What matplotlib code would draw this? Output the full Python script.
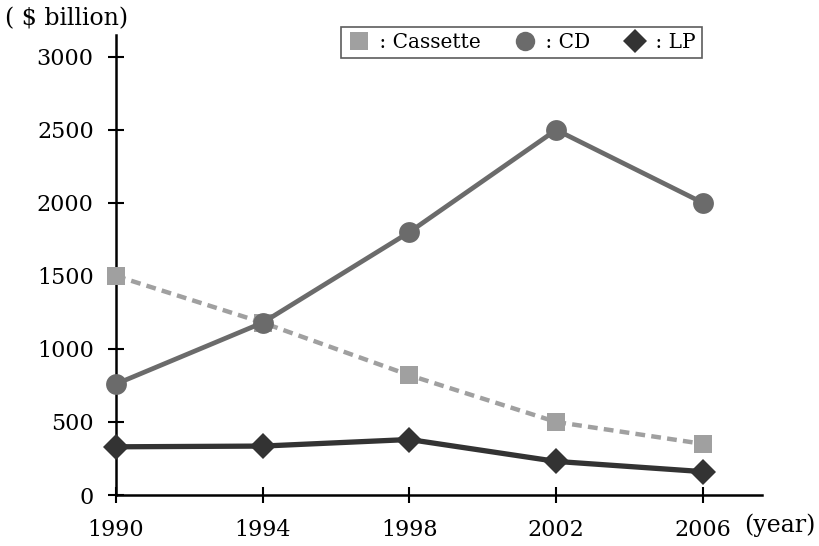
import numpy as np
import matplotlib
matplotlib.use("Agg")
import matplotlib.pyplot as plt

years = [1990, 1994, 1998, 2002, 2006]
cassette = [1500, 1180, 820, 500, 350]
cd = [760, 1180, 1800, 2500, 2000]
lp = [330, 335, 380, 230, 160]
yticks = [0, 500, 1000, 1500, 2000, 2500, 3000]

plt.rcParams['font.family'] = ['DejaVu Serif']

fig = plt.figure(figsize=(8.19, 5.46), dpi=100)
ax = fig.add_axes([0.1416, 0.0934, 0.7884, 0.8426])

# cassette: light gray dashed, squares
ax.plot(years, cassette, color='#a0a0a0', lw=3.2, linestyle=(0, (2.2, 1.4)),
        marker='s', markersize=13, markeredgewidth=0, zorder=3, clip_on=False)
# CD: medium gray, circles
ax.plot(years, cd, color='#6b6b6b', lw=3.4, marker='o', markersize=15,
        markeredgewidth=0, zorder=4, clip_on=False)
# LP: dark, diamonds
ax.plot(years, lp, color='#333333', lw=3.8, marker='D', markersize=13,
        markeredgewidth=0, zorder=5, clip_on=False)

ax.set_xlim(1990, 2007.6)
ax.set_ylim(0, 3150)
ax.set_xticks(years)
ax.set_yticks(yticks)
ax.spines['top'].set_visible(False)
ax.spines['right'].set_visible(False)
ax.spines['left'].set_linewidth(1.8)
ax.spines['bottom'].set_linewidth(1.8)
ax.tick_params(axis='both', direction='inout', length=12, width=1.5,
               labelsize=16, color='black')
ax.tick_params(axis='y', pad=10)
ax.tick_params(axis='x', pad=11)
ax.patch.set_visible(False)

fig.text(0.006, 0.965, '( $ billion)', fontsize=17, ha='left', va='center')
fig.text(0.908, 0.038, '(year)', fontsize=17, ha='left', va='center')

handles = [
    plt.Line2D([], [], color='#a0a0a0', marker='s', markersize=13, linestyle='none', markeredgewidth=0),
    plt.Line2D([], [], color='#6b6b6b', marker='o', markersize=14, linestyle='none', markeredgewidth=0),
    plt.Line2D([], [], color='#333333', marker='D', markersize=12, linestyle='none', markeredgewidth=0),
]
leg = fig.legend(handles, [' : Cassette', ' : CD', ' : LP'], ncol=3,
                 loc='upper left', bbox_to_anchor=(0.4164, 0.9505),
                 fontsize=14.5, frameon=True, fancybox=False, borderaxespad=0,
                 handletextpad=0.1, columnspacing=1.6, handlelength=1.2,
                 borderpad=0.3)
leg.get_frame().set_edgecolor('#333333')
leg.get_frame().set_linewidth(1.2)

fig.savefig('out.png', dpi=100)
